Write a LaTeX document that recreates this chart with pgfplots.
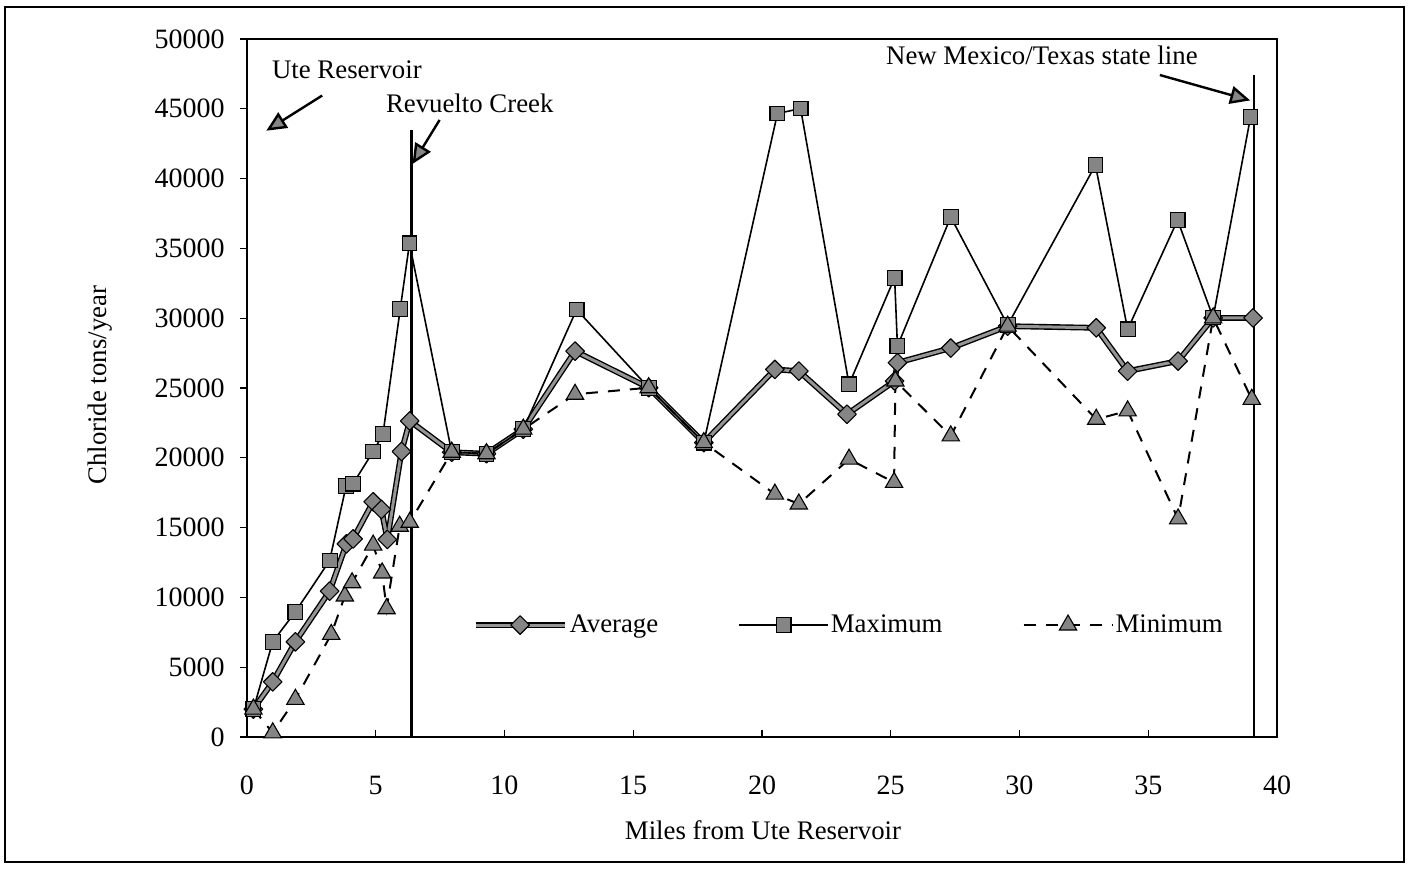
\documentclass[border=0pt]{standalone}
\usepackage{pgfplots}
\pgfplotsset{compat=1.18}
\usepackage{fontspec}
\setmainfont{Liberation Serif}
\usetikzlibrary{arrows.meta}
\definecolor{mk}{HTML}{858585}
\definecolor{avg}{HTML}{959595}
\newcommand{\tf}{\fontsize{13.4}{16}\selectfont}
\newcommand{\nf}{\fontsize{14}{16}\selectfont}
\pgfplotsset{
  stdlegend/.style={legend image code/.code={\draw[mark repeat=2,mark phase=2,##1] plot coordinates {(0pt,0pt)(22.25pt,0pt)(44.5pt,0pt)};}},
  avglegend/.style={legend image code/.code={\draw[black,line width=2.9pt] (0pt,0pt) -- (44.5pt,0pt);
    \draw[mark repeat=2,mark phase=2,##1] plot coordinates {(0pt,0pt)(22.25pt,0pt)(44.5pt,0pt)};}},
}
\begin{document}
\begin{tikzpicture}
\useasboundingbox (-123.5pt,-66pt) rectangle (581pt,368.5pt);
\begin{axis}[
  at={(0pt,0pt)}, anchor=south west,
  scale only axis, width=515pt, height=349pt,
  xmin=0, xmax=40, ymin=0, ymax=50000,
  scaled x ticks=false, scaled y ticks=false,
  axis line style={black, line width=0.75pt},
  xtick={0,5,...,40},
  xticklabels={0,5,10,15,20,25,30,35,40},
  ytick={0,5000,...,50000},
  yticklabels={0,5000,10000,15000,20000,25000,30000,35000,40000,45000,50000},
  xtick pos=left, ytick pos=left,
  tick align=outside, major tick length=3.5pt,
  tick style={black, line width=0.6pt},
  x tick style={yshift=3.5pt},
  every x tick label/.style={anchor=center, yshift=-20.5pt, font=\nf, inner sep=0pt},
  every y tick label/.style={anchor=east, xshift=-7.5pt, font=\nf, inner sep=0pt},
  xlabel={Miles from Ute Reservoir},
  ylabel={Chloride tons/year},
  every axis x label/.style={at={(axis description cs:0.501,-0.1332)}, anchor=center, font=\tf},
  every axis y label/.style={at={(axis description cs:-0.1427,0.504)}, anchor=center, rotate=90, font=\tf},
  legend columns=3,
  legend style={at={(axis cs:8.75,8020)}, anchor=west, draw=none, fill=none, inner sep=0pt,
    font=\tf, nodes={inner sep=1pt},
    /tikz/every even column/.append style={column sep=39pt}},
  stdlegend,
]
% Average: black underlay
\addplot[black, line width=2.9pt, forget plot, line join=round] coordinates {
(0.25,2000)(1.0,3950)(1.88,6820)(3.21,10450)(3.86,13830)(4.12,14190)(4.9,16850)(5.22,16300)(5.45,14150)(6.0,20450)(6.32,22640)(7.95,20400)(9.3,20290)(10.73,22050)(12.74,27640)(15.6,25020)(17.74,21090)(20.5,26330)(21.43,26210)(23.3,23120)(25.15,25500)(25.26,26810)(27.33,27860)(29.54,29430)(32.98,29310)(34.2,26210)(36.16,26930)(37.52,30020)(39.07,30020)
};
\addplot[avg, line width=1.5pt, line join=round, mark=square*, mark size=3.3pt,
  mark options={rotate=45, fill=mk, draw=black, line width=0.55pt}, avglegend
  ] coordinates {
(0.25,2000)(1.0,3950)(1.88,6820)(3.21,10450)(3.86,13830)(4.12,14190)(4.9,16850)(5.22,16300)(5.45,14150)(6.0,20450)(6.32,22640)(7.95,20400)(9.3,20290)(10.73,22050)(12.74,27640)(15.6,25020)(17.74,21090)(20.5,26330)(21.43,26210)(23.3,23120)(25.15,25500)(25.26,26810)(27.33,27860)(29.54,29430)(32.98,29310)(34.2,26210)(36.16,26930)(37.52,30020)(39.07,30020)
};
\addlegendentry{Average}
% Maximum
\addplot[black, line width=0.8pt, mark=square*, mark size=3.7pt,
  mark options={fill=mk, draw=black, line width=0.55pt}] coordinates {
(0.25,2000)(1.0,6830)(1.88,8970)(3.21,12640)(3.85,18000)(4.12,18150)(4.9,20450)(5.28,21690)(5.95,30650)(6.31,35360)(7.95,20400)(9.3,20290)(10.73,22050)(12.8,30620)(15.6,25020)(17.74,21090)(20.6,44660)(21.5,45020)(23.38,25260)(25.15,32900)(25.26,28000)(27.33,37250)(29.54,29500)(32.95,40970)(34.2,29200)(36.14,37030)(37.52,30050)(38.97,44390)
};
\addlegendentry{Maximum}
% Minimum
\addplot[black, line width=1pt, dash pattern=on 6pt off 5pt, mark=triangle*, mark size=5pt,
  mark options={solid, fill=mk, draw=black, line width=0.55pt}] coordinates {
(0.25,2000)(1.0,300)(1.88,2700)(3.27,7350)(3.8,10100)(4.08,11050)(4.9,13750)(5.25,11750)(5.42,9190)(5.93,15100)(6.32,15380)(7.95,20400)(9.3,20290)(10.73,22050)(12.74,24550)(15.6,25020)(17.74,21090)(20.5,17400)(21.43,16690)(23.38,19900)(25.13,18240)(25.18,25500)(27.33,21570)(29.54,29430)(32.98,22760)(34.2,23360)(36.16,15620)(37.52,30020)(39.02,24190)
};
\addlegendentry{Minimum}
% reference lines
\draw[black, line width=1.1pt] (axis cs:6.39,0) -- (axis cs:6.39,43480);
\draw[black, line width=1.1pt] (axis cs:39.1,0) -- (axis cs:39.1,47420);
% annotations
\node[font=\tf] at (axis cs:3.88,47780) {Ute Reservoir};
\node[font=\tf] at (axis cs:8.65,45420) {Revuelto Creek};
\node[font=\tf] at (axis cs:30.87,48850) {New Mexico/Texas state line};
\draw[black, line width=1.2pt, -{Triangle[length=10pt,width=9pt,fill=mk]}] (axis cs:2.92,45950) -- (axis cs:0.75,43430);
\draw[black, line width=1.2pt, -{Triangle[length=10pt,width=9pt,fill=mk]}] (axis cs:7.48,44200) -- (axis cs:6.43,41050);
\draw[black, line width=1.2pt, -{Triangle[length=10pt,width=9pt,fill=mk]}] (axis cs:35.45,47420) -- (axis cs:38.96,45600);
\end{axis}
\draw[black, line width=1pt] (-121pt,-62.5pt) rectangle (578.5pt,365pt);
\end{tikzpicture}
\end{document}
